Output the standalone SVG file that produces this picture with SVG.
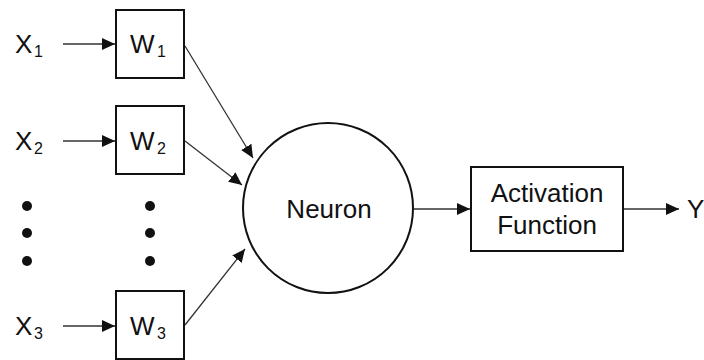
<svg xmlns="http://www.w3.org/2000/svg" width="704" height="360" viewBox="0 0 704 360">
<defs>
<style>
.t{font-family:"Liberation Sans",Arial,sans-serif;font-size:26px;fill:#111}
.s{font-family:"Liberation Sans",Arial,sans-serif;font-size:16px;fill:#111}
.box{fill:#fff;stroke:#111;stroke-width:2}
.c{stroke:#333;stroke-width:1.3;fill:none;marker-end:url(#ah)}
.dot{fill:#111}
</style>
<marker id="ah" markerUnits="userSpaceOnUse" markerWidth="14" markerHeight="12" refX="13" refY="6" orient="auto">
<path d="M0,0 L13,6 L0,12 z" fill="#111"/>
</marker>
</defs>
<rect width="704" height="360" fill="#fff"/>
<g id="connectors">
<line class="c" x1="63" y1="44" x2="115" y2="44"/>
<line class="c" x1="63" y1="141" x2="115" y2="141"/>
<line class="c" x1="63" y1="326" x2="115" y2="326"/>
<line class="c" x1="185" y1="46" x2="253" y2="158"/>
<line class="c" x1="185" y1="141" x2="242" y2="185"/>
<line class="c" x1="185" y1="325" x2="245" y2="249"/>
<line class="c" x1="414" y1="209" x2="470" y2="209"/>
<line class="c" x1="624" y1="209" x2="679" y2="209"/>
</g>
<g id="x1"><text class="t" x="15" y="53">X</text><text class="s" x="34" y="57">1</text></g>
<g id="x2"><text class="t" x="15" y="150">X</text><text class="s" x="34" y="154">2</text></g>
<g id="x3"><text class="t" x="15" y="335">X</text><text class="s" x="34" y="339">3</text></g>
<g id="w1"><rect class="box" x="116" y="10" width="68" height="68"/><text class="t" x="130" y="53">W</text><text class="s" x="157" y="57">1</text></g>
<g id="w2"><rect class="box" x="116" y="106" width="68" height="68"/><text class="t" x="130" y="150">W</text><text class="s" x="157" y="154">2</text></g>
<g id="w3"><rect class="box" x="116" y="291" width="68" height="68"/><text class="t" x="130" y="335">W</text><text class="s" x="157" y="339">3</text></g>
<g id="dots-x"><circle class="dot" cx="27" cy="206" r="5"/><circle class="dot" cx="27" cy="233" r="5"/><circle class="dot" cx="27" cy="261" r="5"/></g>
<g id="dots-w"><circle class="dot" cx="150" cy="206" r="5"/><circle class="dot" cx="150" cy="233" r="5"/><circle class="dot" cx="150" cy="261" r="5"/></g>
<g id="neuron"><circle cx="328" cy="208" r="85" fill="#fff" stroke="#111" stroke-width="2"/><text class="t" x="329" y="218" text-anchor="middle">Neuron</text></g>
<g id="activation"><rect class="box" x="471" y="167" width="152" height="84"/><text class="t" x="547" y="202" text-anchor="middle">Activation</text><text class="t" x="547" y="234" text-anchor="middle">Function</text></g>
<g id="y"><text class="t" x="687" y="218">Y</text></g>
</svg>
